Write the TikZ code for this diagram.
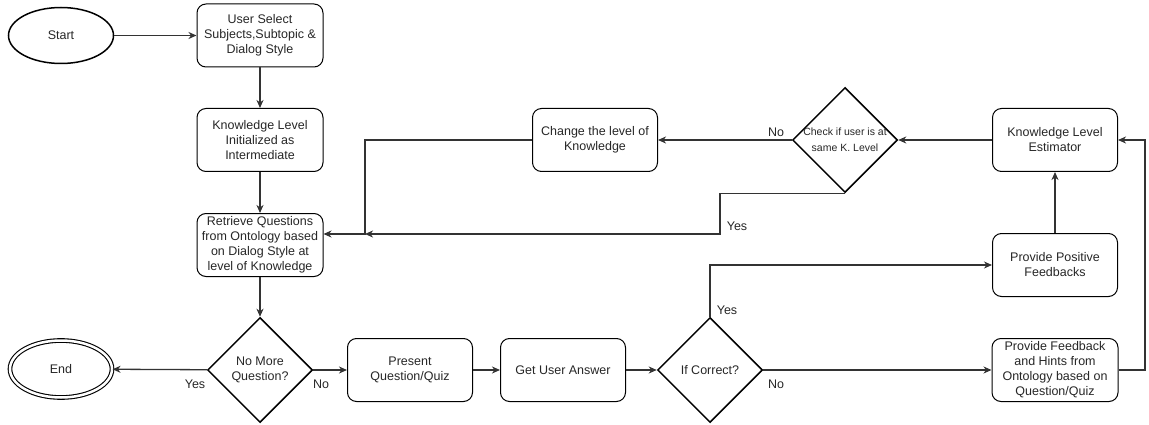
\documentclass[tikz,border=0pt]{standalone}
\usepackage{fontspec}
\setmainfont{Liberation Sans}
\usetikzlibrary{shapes.geometric,arrows.meta}
\begin{document}
\begin{tikzpicture}[x=1pt,y=-1pt,
  txt/.style={font=\fontsize{12.5}{15}\selectfont, text=black!85},
  box/.style={txt, draw=black, line width=1pt, rounded corners=9pt,
    minimum width=126pt, minimum height=63pt, align=center, inner sep=1.5pt},
  decision/.style={draw=black, line width=1.5pt, diamond,
    minimum width=105pt, minimum height=105pt, inner sep=0pt},
  terminal/.style={txt, draw=black, line width=1.5pt, ellipse,
    minimum width=105pt, minimum height=56pt},
  flow/.style={draw=black!80, line width=1.3pt,
    -{Stealth[length=8pt,width=7pt,inset=2.5pt]}},
  lbl/.style={txt, inner sep=0pt}
]
\useasboundingbox (0,0) rectangle (1149,425);

% terminals
\node[terminal] (start) at (61,35.5) {Start};
\node[terminal, double, double distance=2.5pt, line width=1.1pt,
      minimum width=102pt, minimum height=57pt] (end) at (61,369) {End};

% left column
\node[box] (usr)  at (260,35.5) {User Select\\Subjects,Subtopic \&\\Dialog Style};
\node[box] (init) at (260,140)  {Knowledge Level\\Initialized as\\Intermediate};
\node[box] (retr) at (260,245)  {Retrieve Questions\\from Ontology based\\on Dialog Style at\\level of Knowledge};

% upper loop
\node[box, minimum width=125pt] (chg) at (595,140) {Change the level of\\Knowledge};
\node[decision, label={[align=center, font=\fontsize{10.5}{16}\selectfont,
      text=black!85]center:{Check if user is at\\same K. Level}}] (chk) at (845,140) {};
\node[box, minimum width=125pt] (est) at (1055,140) {Knowledge Level\\Estimator};
\node[box, minimum width=125pt] (pos) at (1055,265) {Provide Positive\\Feedbacks};

% bottom row
\node[decision, label={[txt, align=center]center:{No More\\Question?}}] (nmq) at (260,370) {};
\node[box, minimum width=125pt] (pres) at (410,370) {Present\\Question/Quiz};
\node[box, minimum width=125pt] (ans)  at (563,370) {Get User Answer};
\node[decision, label={[txt]center:{If Correct?}}] (corr) at (710,370) {};
\node[box, minimum width=126pt] (hint) at (1055,370) {Provide Feedback\\and Hints from\\Ontology based on\\Question/Quiz};

% bend points
\coordinate (jn) at (365,234);
\coordinate (yb) at (720,210);
\coordinate (rt) at (1145,370);

% connectors
\draw[flow] (start) -- (usr);
\draw[flow] (usr) -- (init);
\draw[flow] (init) -- (retr);
\draw[flow] (retr) -- (nmq);
\draw[flow] (nmq) -- (end);
\draw[flow] (nmq) -- (pres);
\draw[flow] (pres) -- (ans);
\draw[flow] (ans) -- (corr);
\draw[flow] (corr) -- (hint);
\draw[flow] (corr.north) |- (pos.west);
\draw[flow] (pos) -- (est);
\draw[flow] (hint.east) -- (rt) |- (est.east);
\draw[flow] (est) -- (chk);
\draw[flow] (chk) -- (chg);
\draw[flow] (chg.west) -| (jn) -- (retr.east |- jn);
\draw[flow] (chk.south) -| (yb) |- (jn);

% branch labels
\node[lbl] (yesend) at (195,384) {Yes};
\node[lbl] (nopres) at (321,384) {No};
\node[lbl] (yespos) at (727,310) {Yes};
\node[lbl] (nohint) at (776,384) {No};
\node[lbl] (nochg)  at (776,132) {No};
\node[lbl] (yesret) at (737,226) {Yes};
\end{tikzpicture}
\end{document}
